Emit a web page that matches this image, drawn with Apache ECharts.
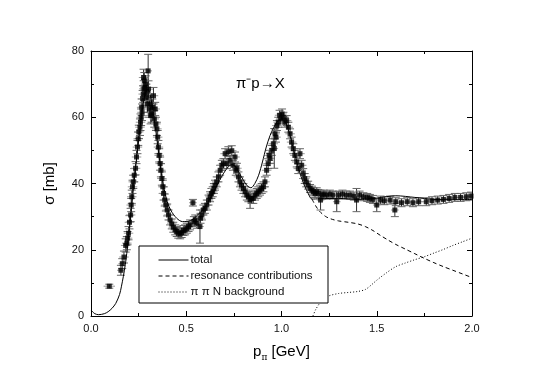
<!DOCTYPE html>
<html>
<head>
<meta charset="utf-8">
<title>pi- p -> X</title>
<script src="https://cdn.jsdelivr.net/npm/echarts@6/dist/echarts.min.js"></script>
<style>
  html, body { margin: 0; padding: 0; background: #fff; }
  #main { width: 545px; height: 380px; }
</style>
</head>
<body>
<div id="main"></div>
<script>
// measured cross section: [p (GeV), sigma (mb), dp, dsigma]
var measured = [
  [0.096, 9.0, 0.03, 0.6], [0.157, 13.8, 0.02, 1.5], [0.164, 15.8, 0.02, 1.5], [0.173, 17.8, 0.025, 1.8],
  [0.182, 21.3, 0.025, 2], [0.188, 22.0, 0.025, 2], [0.192, 23.5, 0.025, 2], [0.197, 25.0, 0.025, 2],
  [0.202, 28.3, 0.025, 2], [0.208, 30.5, 0.025, 2], [0.211, 33.5, 0.025, 2], [0.214, 36.0, 0.025, 2],
  [0.218, 39.0, 0.025, 2], [0.222, 40.5, 0.025, 2], [0.227, 42.5, 0.025, 2], [0.234, 44.6, 0.025, 2],
  [0.239, 48.0, 0.025, 2], [0.244, 51.0, 0.025, 2], [0.248, 53.5, 0.025, 2], [0.251, 55.6, 0.025, 2],
  [0.257, 57.0, 0.025, 2.5], [0.260, 58.5, 0.025, 2.5], [0.263, 60.0, 0.025, 2.5], [0.266, 63.0, 0.025, 2.5],
  [0.268, 61.5, 0.025, 2.5], [0.271, 65.6, 0.025, 2.5], [0.274, 67.0, 0.025, 2.5], [0.276, 72.0, 0.025, 2.5],
  [0.278, 68.6, 0.025, 2.5], [0.280, 71.0, 0.025, 2.5], [0.284, 69.0, 0.025, 2.5], [0.287, 70.0, 0.025, 2.5],
  [0.290, 67.5, 0.025, 2.5], [0.293, 66.0, 0.025, 2.5], [0.297, 64.0, 0.025, 2.5], [0.300, 74.0, 0.02, 5],
  [0.302, 68.5, 0.025, 2.5], [0.306, 62.5, 0.025, 2.5], [0.310, 64.0, 0.025, 2.5], [0.313, 60.5, 0.025, 2.5],
  [0.318, 61.0, 0.025, 2.5], [0.322, 63.0, 0.025, 2.5], [0.328, 66.5, 0.025, 2.5], [0.332, 59.5, 0.025, 2.5],
  [0.337, 62.5, 0.025, 2], [0.341, 58.0, 0.025, 2], [0.346, 56.5, 0.025, 2], [0.350, 54.0, 0.025, 2],
  [0.354, 51.0, 0.025, 2], [0.358, 48.5, 0.025, 2], [0.363, 46.0, 0.025, 2], [0.367, 44.0, 0.025, 2],
  [0.372, 41.5, 0.025, 2], [0.377, 39.0, 0.025, 2], [0.381, 37.0, 0.025, 2], [0.387, 35.0, 0.025, 1.8],
  [0.393, 33.5, 0.025, 1.8], [0.400, 32.0, 0.025, 1.8], [0.407, 30.5, 0.025, 1.5], [0.415, 29.0, 0.025, 1.5],
  [0.424, 27.8, 0.025, 1.5], [0.432, 26.8, 0.025, 1.5], [0.442, 26.0, 0.025, 1.5], [0.450, 25.5, 0.025, 1.5],
  [0.458, 25.0, 0.025, 1.5], [0.468, 24.8, 0.025, 1.5], [0.476, 25.2, 0.025, 1.5], [0.485, 25.8, 0.025, 1.5],
  [0.494, 26.0, 0.025, 1.5], [0.503, 26.5, 0.025, 1.5], [0.512, 27.0, 0.025, 1.5], [0.520, 27.5, 0.025, 1.5],
  [0.535, 34.2, 0.02, 1], [0.540, 28.5, 0.025, 1.5], [0.547, 29.0, 0.025, 1.5], [0.555, 28.0, 0.025, 1.5],
  [0.572, 27.0, 0.02, 5], [0.575, 29.5, 0.025, 1.5], [0.582, 30.5, 0.025, 1.5], [0.590, 32.0, 0.025, 1.5],
  [0.598, 32.5, 0.025, 1.5], [0.608, 33.5, 0.025, 1.5], [0.617, 35.0, 0.025, 1.5], [0.625, 36.0, 0.025, 1.5],
  [0.632, 37.0, 0.025, 1.5], [0.639, 37.5, 0.025, 1.5], [0.645, 38.5, 0.025, 1.5], [0.651, 39.5, 0.025, 1.5],
  [0.660, 40.5, 0.025, 1.5], [0.669, 42.0, 0.025, 1.5], [0.678, 44.0, 0.025, 1.5], [0.687, 45.5, 0.025, 1.5],
  [0.695, 46.0, 0.025, 1.5], [0.704, 49.0, 0.025, 1.5], [0.713, 46.0, 0.025, 1.5], [0.721, 49.6, 0.025, 1.5],
  [0.730, 47.0, 0.025, 1.5], [0.739, 49.9, 0.025, 1.5], [0.745, 45.5, 0.025, 1.5], [0.756, 48.0, 0.025, 1.5],
  [0.760, 44.0, 0.025, 1.5], [0.766, 44.6, 0.025, 1.5], [0.774, 42.0, 0.025, 1.5], [0.782, 40.5, 0.025, 1.5],
  [0.790, 39.5, 0.025, 1.5], [0.800, 38.5, 0.025, 1.5], [0.809, 37.5, 0.025, 1.5], [0.818, 36.5, 0.025, 1.5],
  [0.826, 36.0, 0.025, 1.5], [0.835, 35.0, 0.025, 2.5], [0.843, 35.5, 0.025, 1.5], [0.852, 35.5, 0.025, 1.5],
  [0.861, 36.5, 0.025, 1.5], [0.870, 37.0, 0.025, 1.5], [0.878, 37.5, 0.025, 1.5], [0.887, 38.0, 0.025, 1.5],
  [0.896, 38.5, 0.025, 1.5], [0.905, 39.0, 0.025, 1.5], [0.913, 40.5, 0.025, 1.5], [0.922, 44.0, 0.025, 1.5],
  [0.930, 46.0, 0.025, 1.5], [0.935, 48.5, 0.025, 1.5], [0.940, 47.6, 0.025, 1.5], [0.949, 50.0, 0.025, 1.5],
  [0.957, 52.0, 0.025, 1.5], [0.962, 50.6, 0.02, 6], [0.966, 55.0, 0.025, 1.5], [0.971, 54.0, 0.025, 1.5],
  [0.976, 57.5, 0.025, 1.5], [0.983, 58.5, 0.025, 1.5], [0.990, 60.6, 0.025, 1.5], [0.996, 59.5, 0.025, 1.5],
  [1.003, 61.0, 0.025, 1.5], [1.010, 60.0, 0.025, 1.5], [1.018, 58.5, 0.025, 1.5], [1.027, 59.0, 0.025, 1.5],
  [1.036, 57.0, 0.025, 1.5], [1.045, 55.0, 0.025, 1.5], [1.053, 52.5, 0.025, 1.5], [1.062, 50.5, 0.025, 1.5],
  [1.070, 48.5, 0.025, 1.5], [1.080, 46.5, 0.025, 1.5], [1.088, 44.5, 0.025, 1.5], [1.097, 49.0, 0.025, 1.5],
  [1.106, 45.5, 0.025, 1.5], [1.114, 43.0, 0.025, 1.5], [1.122, 41.5, 0.025, 1.5], [1.130, 40.5, 0.025, 1.5],
  [1.140, 39.5, 0.025, 1.2], [1.150, 38.5, 0.025, 1.2], [1.160, 38.0, 0.025, 1.2], [1.168, 37.5, 0.025, 1.2],
  [1.176, 37.0, 0.025, 1.2], [1.185, 37.5, 0.025, 1.2], [1.193, 37.0, 0.025, 1.2], [1.205, 35.0, 0.02, 3],
  [1.212, 36.5, 0.025, 1.2], [1.222, 36.8, 0.025, 1.2], [1.237, 36.5, 0.025, 1.2], [1.254, 36.8, 0.025, 1.2],
  [1.270, 36.5, 0.025, 1.2], [1.290, 34.5, 0.02, 3], [1.300, 36.5, 0.025, 1.2], [1.320, 36.8, 0.025, 1.2],
  [1.340, 36.5, 0.025, 1.2], [1.360, 36.5, 0.025, 1.2], [1.380, 36.2, 0.025, 1.2], [1.394, 35.0, 0.02, 3.5],
  [1.410, 36.5, 0.025, 1.2], [1.430, 36.0, 0.025, 1.2], [1.450, 35.8, 0.025, 1.2], [1.464, 35.5, 0.025, 1.2],
  [1.480, 35.2, 0.025, 1.2], [1.500, 33.5, 0.02, 2], [1.520, 35.0, 0.025, 1.2], [1.540, 34.8, 0.025, 1.2],
  [1.570, 35.0, 0.025, 1.2], [1.595, 32.0, 0.02, 2], [1.600, 34.5, 0.025, 1.2], [1.630, 34.2, 0.025, 1.2],
  [1.660, 34.5, 0.025, 1.2], [1.690, 34.2, 0.025, 1.2], [1.720, 34.5, 0.025, 1.2], [1.760, 34.5, 0.025, 1.2],
  [1.790, 34.8, 0.025, 1.2], [1.820, 35.0, 0.025, 1.2], [1.850, 35.2, 0.025, 1.2], [1.880, 35.5, 0.025, 1.2],
  [1.910, 35.8, 0.025, 1.2], [1.940, 35.8, 0.025, 1.2], [1.970, 36.0, 0.025, 1.2], [1.995, 36.2, 0.025, 1.2]
];

// model curves [p, sigma]
var totalCurve = [
  [0.00, 1.8], [0.02, 0.7], [0.04, 0.4], [0.07, 0.7], [0.09, 1.3], [0.11, 2.3], [0.13, 3.8], [0.15, 6.5],
  [0.16, 9.0], [0.17, 12.0], [0.18, 15.5], [0.19, 20.0], [0.20, 25.0], [0.21, 31.0], [0.22, 37.0], [0.23, 42.5],
  [0.24, 48.0], [0.25, 53.0], [0.26, 58.0], [0.27, 62.5], [0.28, 66.0], [0.29, 68.0], [0.30, 68.5], [0.31, 67.0],
  [0.32, 64.0], [0.33, 60.0], [0.34, 56.0], [0.35, 51.5], [0.36, 47.0], [0.37, 43.0], [0.38, 39.5], [0.39, 36.8],
  [0.40, 34.5], [0.42, 31.8], [0.45, 29.5], [0.48, 28.5], [0.50, 28.5], [0.53, 29.0], [0.56, 30.5], [0.60, 33.0],
  [0.63, 36.0], [0.66, 39.3], [0.69, 42.5], [0.72, 45.0], [0.74, 45.7], [0.76, 45.0], [0.78, 43.0], [0.80, 41.0],
  [0.82, 39.3], [0.84, 38.7], [0.86, 40.0], [0.88, 42.5], [0.90, 46.5], [0.92, 51.0], [0.94, 54.5], [0.96, 57.0],
  [0.98, 58.8], [1.00, 59.5], [1.02, 58.5], [1.04, 55.5], [1.06, 51.0], [1.08, 46.5], [1.10, 42.5], [1.12, 39.5],
  [1.14, 37.0], [1.16, 35.3], [1.20, 35.4], [1.30, 35.5], [1.40, 35.2], [1.50, 35.6], [1.60, 36.3], [1.70, 35.8],
  [1.80, 35.2], [1.90, 35.1], [2.00, 35.2]
];
var resonanceCurve = [
  [1.16, 35.3], [1.18, 33.2], [1.20, 31.6], [1.23, 30.1], [1.26, 29.3], [1.30, 28.7], [1.35, 28.3], [1.40, 27.8],
  [1.44, 27.0], [1.48, 25.8], [1.52, 24.3], [1.56, 22.9], [1.60, 21.6], [1.65, 20.2], [1.70, 18.8], [1.75, 17.4],
  [1.80, 16.1], [1.85, 14.9], [1.90, 13.8], [1.95, 12.7], [2.00, 11.6]
];
var backgroundCurve = [
  [1.165, 0.0], [1.18, 2.0], [1.20, 3.8], [1.22, 5.1], [1.25, 6.1], [1.30, 6.8], [1.35, 7.1], [1.40, 7.4],
  [1.44, 8.0], [1.47, 9.3], [1.50, 10.8], [1.55, 13.0], [1.60, 14.9], [1.65, 16.0], [1.70, 17.0], [1.75, 17.9],
  [1.80, 19.0], [1.85, 20.1], [1.90, 21.3], [1.95, 22.4], [2.00, 23.5]
];
var legendNames = ['total', 'resonance contributions', 'π π N background'];
var xTicks = { min: 0, max: 2, step: 0.5 };
var yTicks = { min: 0, max: 80, step: 20 };

var font = 'Liberation Sans, Arial, sans-serif';
var chart = echarts.init(document.getElementById('main'));

function frameAxis(pos, range, withLabels) {
  return {
    type: 'value', position: pos, min: range.min, max: range.max, interval: range.step,
    axisLine: { show: true, onZero: false, lineStyle: { color: '#000', width: 1 } },
    axisTick: { show: true, inside: true, length: 5, lineStyle: { color: '#000' } },
    minorTick: { show: true, splitNumber: 2, length: 3, lineStyle: { color: '#000' } },
    splitLine: { show: false },
    axisLabel: { show: withLabels, color: '#111', fontSize: 11, fontFamily: font, margin: 7 }
  };
}

var xBottom = frameAxis('bottom', xTicks, true);
xBottom.axisLabel.formatter = function (v) { return v.toFixed(1); };
xBottom.name = '{b|p}{s|π}{b| [GeV]}';
xBottom.nameLocation = 'middle';
xBottom.nameGap = 28;
xBottom.nameTextStyle = {
  rich: {
    b: { fontSize: 15, fontFamily: font, color: '#000', lineHeight: 18, verticalAlign: 'top' },
    s: { fontSize: 9, fontFamily: 'DejaVu Serif', color: '#000', lineHeight: 9, padding: [11, 0, 0, 0], verticalAlign: 'bottom' }
  }
};
var yLeft = frameAxis('left', yTicks, true);
yLeft.name = 'σ [mb]';
yLeft.nameLocation = 'middle';
yLeft.nameGap = 34;
yLeft.nameTextStyle = { fontSize: 15, fontFamily: font, color: '#000' };

var option = {
  animation: false,
  backgroundColor: '#fff',
  grid: { left: 91, right: 73, top: 51, bottom: 64 },
  xAxis: [xBottom, frameAxis('top', xTicks, false)],
  yAxis: [yLeft, frameAxis('right', yTicks, false)],
  legend: {
    data: legendNames,
    orient: 'vertical',
    left: 158, top: 254,
    padding: 0, itemGap: 4, itemWidth: 30, itemHeight: 11,
    itemStyle: { opacity: 0 },
    lineStyle: { width: 1, color: '#000' },
    textStyle: { fontSize: 11.5, fontFamily: font, color: '#111', padding: [0, 0, 0, -3] },
    z: 12
  },
  graphic: [
    { type: 'rect', z: 11, shape: { x: 139, y: 246, width: 189, height: 57 },
      style: { fill: '#fff', stroke: '#000', lineWidth: 1 } },
    { type: 'text', z: 11, x: 236, y: 76,
      style: { text: 'π⁻p→X', fontSize: 15, fontFamily: font, fill: '#000' } }
  ],
  series: [
    {
      name: 'errors', type: 'custom', clip: true, z: 3,
      data: measured,
      renderItem: function (params, api) {
        var x = api.value(0), y = api.value(1), dx = api.value(2), dy = api.value(3);
        var l = api.coord([x - dx, y]), r = api.coord([x + dx, y]);
        var t = api.coord([x, y + dy]), b = api.coord([x, y - dy]);
        var cap = 4;
        return {
          type: 'group',
          children: [
            { type: 'line', shape: { x1: l[0], y1: l[1], x2: r[0], y2: r[1] }, style: { stroke: '#999', lineWidth: 1 } },
            { type: 'line', shape: { x1: t[0], y1: t[1], x2: b[0], y2: b[1] }, style: { stroke: '#333', lineWidth: 1 } },
            { type: 'line', shape: { x1: t[0] - cap, y1: t[1], x2: t[0] + cap, y2: t[1] }, style: { stroke: '#666', lineWidth: 1 } },
            { type: 'line', shape: { x1: b[0] - cap, y1: b[1], x2: b[0] + cap, y2: b[1] }, style: { stroke: '#666', lineWidth: 1 } }
          ]
        };
      }
    },
    {
      name: 'data', type: 'scatter', z: 4, symbol: 'rect', symbolSize: 5,
      itemStyle: { color: '#000' },
      data: measured.map(function (d) { return [d[0], d[1]]; })
    },
    {
      name: legendNames[0], type: 'line', z: 5, data: totalCurve, smooth: 0.3, symbol: 'none',
      lineStyle: { color: '#000', width: 1, type: 'solid' }, itemStyle: { color: '#000' }
    },
    {
      name: legendNames[1], type: 'line', z: 5, data: resonanceCurve, smooth: 0.3, symbol: 'none',
      lineStyle: { color: '#000', width: 1, type: [4, 3] }, itemStyle: { color: '#000' }
    },
    {
      name: legendNames[2], type: 'line', z: 5, data: backgroundCurve, smooth: 0.3, symbol: 'none',
      lineStyle: { color: '#000', width: 1, type: [1, 2] }, itemStyle: { color: '#000' }
    }
  ]
};
chart.setOption(option);
</script>
</body>
</html>
